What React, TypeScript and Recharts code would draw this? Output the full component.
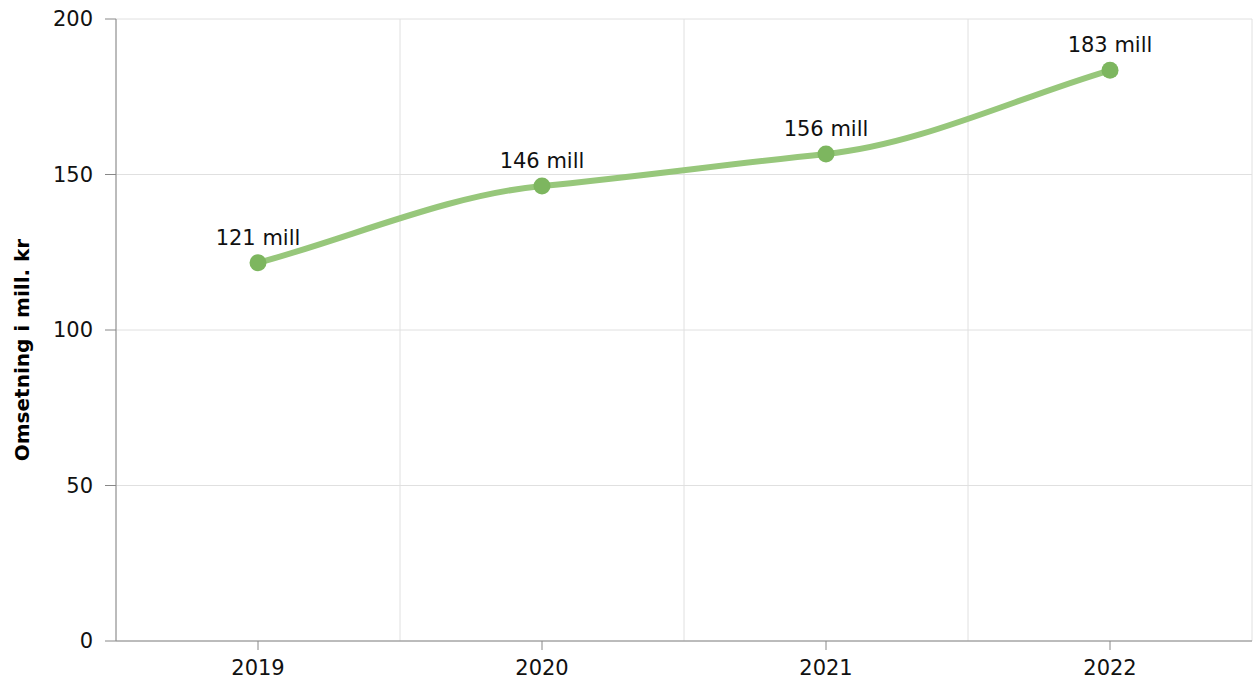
import React from 'react';
import { LineChart, Line, XAxis, YAxis, CartesianGrid, LabelList } from 'recharts';

const years = ['2019', '2020', '2021', '2022'];
const revenue = [121.6, 146.3, 156.6, 183.5];
const labels = ['121 mill', '146 mill', '156 mill', '183 mill'];
const yTicks = [0, 50, 100, 150, 200];

const data = years.map((year, i) => ({ year, revenue: revenue[i], label: labels[i] }));

const FONT = '"DejaVu Sans", Verdana, sans-serif';

// smooth cubic curve: flat-ish tangents at inner points, segment slope at the ends
function smoothCurve(context: any) {
  let pts: [number, number][] = [];
  return {
    areaStart() {},
    areaEnd() {},
    lineStart() {
      pts = [];
    },
    point(x: number, y: number) {
      pts.push([+x, +y]);
    },
    lineEnd() {
      const n = pts.length;
      if (!n) return;
      context.moveTo(pts[0][0], pts[0][1]);
      if (n === 1) return;
      const seg = (i: number) => (pts[i + 1][1] - pts[i][1]) / (pts[i + 1][0] - pts[i][0]);
      const m: number[] = new Array(n).fill(0);
      for (let i = 1; i < n - 1; i++) {
        const s0 = seg(i - 1);
        const s1 = seg(i);
        const chord = (pts[i + 1][1] - pts[i - 1][1]) / (pts[i + 1][0] - pts[i - 1][0]);
        m[i] = Math.sign(s0) === Math.sign(s1) ? 0.5 * chord : 0;
      }
      m[0] = seg(0);
      m[n - 1] = seg(n - 2);
      for (let i = 0; i < n - 1; i++) {
        const [x0, y0] = pts[i];
        const [x1, y1] = pts[i + 1];
        const h = (x1 - x0) / 3;
        context.bezierCurveTo(x0 + h, y0 + m[i] * h, x1 - h, y1 - m[i + 1] * h, x1, y1);
      }
    },
  };
}

const YTitle = ({ viewBox }: any) => {
  const x = viewBox.x + 22;
  const y = viewBox.y + viewBox.height / 2 + 20;
  return (
    <text
      x={x}
      y={y}
      transform={`rotate(-90 ${x} ${y})`}
      textAnchor="middle"
      dominantBaseline="central"
      style={{ fontSize: 20, fontWeight: 'bold', fill: '#000', fontFamily: FONT }}
    >
      Omsetning i mill. kr
    </text>
  );
};

export default function App() {
  return (
    <div style={{ position: 'absolute', left: 0, top: 0, width: 1253, height: 692, background: '#fff', fontFamily: FONT }}>
      <LineChart width={1253} height={692} data={data} margin={{ top: 19, right: 1, bottom: 0, left: 0 }}>
        <CartesianGrid
          stroke="#e0e0e0"
          verticalCoordinatesGenerator={({ offset }: any) =>
            [0, 1, 2, 3, 4].map((k) => offset.left + (k * offset.width) / years.length)
          }
        />
        <XAxis
          dataKey="year"
          scale="band"
          height={51}
          stroke="#888"
          tickSize={9}
          tick={{ fill: '#111', fontSize: 21, fontFamily: FONT }}
          tickMargin={10}
        />
        <YAxis
          width={116}
          domain={[0, 200]}
          ticks={yTicks}
          stroke="#888"
          tickSize={11}
          tickMargin={12}
          tick={{ fill: '#111', fontSize: 21, fontFamily: FONT }}
          label={{ content: YTitle }}
        />
        <Line
          type={smoothCurve as any}
          dataKey="revenue"
          stroke="#97c77b"
          strokeWidth={6}
          dot={{ r: 8.5, fill: '#7db65f', stroke: '#7db65f', strokeWidth: 0 }}
          activeDot={false}
          isAnimationActive={false}
        >
          <LabelList dataKey="label" position="top" offset={18} style={{ fill: '#111', fontSize: 21, fontFamily: FONT }} />
        </Line>
      </LineChart>
    </div>
  );
}
